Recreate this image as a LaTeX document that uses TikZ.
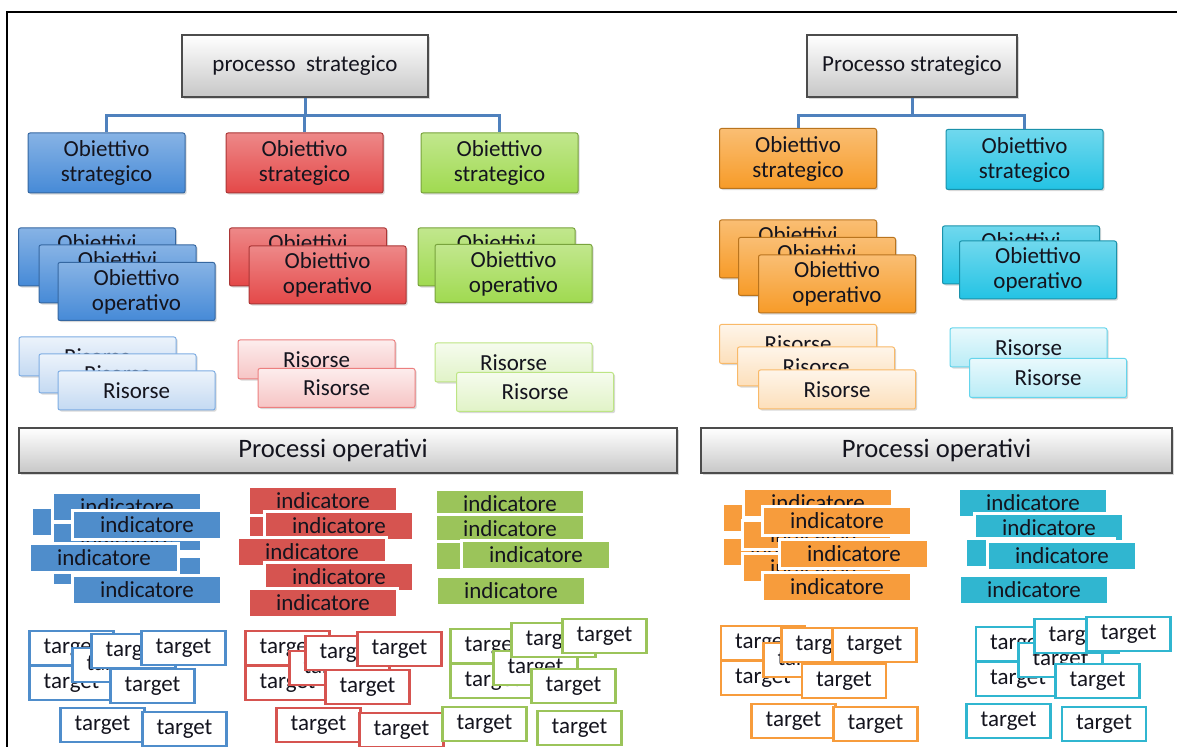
\documentclass[tikz,border=0pt]{standalone}
\usepackage{fontspec}
\setmainfont{Carlito}
\usetikzlibrary{shadows}
\definecolor{cblu}{RGB}{70,138,215}
\definecolor{crosso}{RGB}{228,72,72}
\definecolor{cverde}{RGB}{160,218,80}
\definecolor{carancio}{RGB}{247,155,40}
\definecolor{cciano}{RGB}{35,195,228}
\definecolor{iblu}{RGB}{79,141,203}
\definecolor{irosso}{RGB}{214,84,80}
\definecolor{iverde}{RGB}{155,196,90}
\definecolor{iarancio}{RGB}{247,156,60}
\definecolor{iciano}{RGB}{48,182,208}
\definecolor{linea}{RGB}{79,129,189}
\definecolor{testo}{RGB}{20,20,30}

\begin{document}
\begin{tikzpicture}[x=0.5pt, y=-0.5pt, line width=0.5pt, text=testo,
  font=\fontsize{11.5}{12.5}\selectfont]
\tikzstyle{every node} = [rectangle, inner sep=0pt, align=center]
\tikzstyle{ombra} = [drop shadow={shadow xshift=0.8pt, shadow yshift=-0.8pt, opacity=0.3}]
\tikzstyle{grigio} = [draw=black!70, line width=0.8pt, top color=white, bottom color=black!22, ombra]
\tikzset{
  strat/.style={draw=#1!75!black, top color=#1!65!white, bottom color=#1, rounded corners=1pt,
    minimum width=78.5pt, minimum height=30pt, ombra},
  oper/.style={draw=#1!75!black, top color=#1!65!white, bottom color=#1, rounded corners=1pt,
    minimum width=78.5pt, minimum height=29pt, ombra},
  riso/.style={draw=#1!70!white, top color=#1!10!white, bottom color=#1!32!white, rounded corners=1pt,
    minimum width=78.5pt, minimum height=19.5pt, ombra},
  indic/.style={fill=#1, draw=white, line width=1.5pt, minimum width=74.5pt, minimum height=14.5pt, ombra},
  targ/.style={fill=white, draw=#1, line width=1.4pt, minimum width=42pt, minimum height=17pt}
}
\useasboundingbox (0,0) rectangle (1177,747);
\fill[white] (0,0) rectangle (1177,747);
\draw[line width=1pt] (7,747) -- (7,12) -- (1177,12);

% processo strategico
\node (ps1) at (305,66) [grigio, minimum width=123pt, minimum height=31pt] {processo\ \ strategico};
\node (ps2) at (912,66) [grigio, minimum width=105pt, minimum height=31pt] {Processo strategico};

% obiettivi strategici
\node (osb) at (106.5,163) [strat=cblu] {Obiettivo\\strategico};
\node (osr) at (304.5,163) [strat=crosso] {Obiettivo\\strategico};
\node (osg) at (499.5,163) [strat=cverde] {Obiettivo\\strategico};
\node (oso) at (798,158.5) [strat=carancio] {Obiettivo\\strategico};
\node (osc) at (1024.5,159.5) [strat=cciano] {Obiettivo\\strategico};

\foreach \to in {osb, osr, osg}
  \draw [linea, line width=1.5pt] (ps1.south) -- ++(0,18) -| (\to.north);
\foreach \to in {oso, osc}
  \draw [linea, line width=1.5pt] (ps2.south) -- ++(0,18) -| (\to.north);

% obiettivi operativi
\node (opb1) at (97,257) [oper=cblu] {Obiettivi\\\phantom{operativo}};
\node (opb2) at (117.5,274) [oper=cblu] {Obiettivi\\\phantom{operativo}};
\node (opb3) at (136.5,291.5) [oper=cblu] {Obiettivo\\operativo};
\node (opr1) at (308,257) [oper=crosso] {Obiettivi\\\phantom{operativo}};
\node (opr2) at (327.5,275) [oper=crosso] {Obiettivo\\operativo};
\node (opg1) at (496.5,257) [oper=cverde] {Obiettivi\\\phantom{operativo}};
\node (opg2) at (513.5,273.5) [oper=cverde] {Obiettivo\\operativo};
\node (opo1) at (798,249) [oper=carancio] {Obiettivi\\\phantom{operativo}};
\node (opo2) at (817,266.5) [oper=carancio] {Obiettivi\\\phantom{operativo}};
\node (opo3) at (837,284) [oper=carancio] {Obiettivo\\operativo};
\node (opc1) at (1021,255) [oper=cciano] {Obiettivi\\\phantom{operativo}};
\node (opc2) at (1038,270) [oper=cciano] {Obiettivo\\operativo};

% risorse
\foreach \n/\x/\y in {1/97.5/356.5, 2/117.5/373.5, 3/136.5/390.5}
  \node (rb\n) at (\x,\y) [riso=cblu] {Risorse};
\foreach \n/\x/\y in {1/316.5/359.5, 2/336.5/388}
  \node (rr\n) at (\x,\y) [riso=crosso] {Risorse};
\foreach \n/\x/\y in {1/513.5/362.5, 2/535/392}
  \node (rg\n) at (\x,\y) [riso=cverde] {Risorse};
\foreach \n/\x/\y in {1/798/344, 2/816/366.5, 3/837/389.5}
  \node (ro\n) at (\x,\y) [riso=carancio] {Risorse};
\foreach \n/\x/\y in {1/1028.5/347.5, 2/1048/378}
  \node (rc\n) at (\x,\y) [riso=cciano] {Risorse};

% processi operativi
\node (po1) at (348,450.5) [grigio, minimum width=329pt, minimum height=22.5pt, font=\fontsize{13.3}{14}\selectfont] {Processi operativi\hspace*{15pt}};
\node (po2) at (936.5,450.5) [grigio, minimum width=235.5pt, minimum height=22.5pt, font=\fontsize{13.3}{14}\selectfont] {Processi operativi};

% indicatori
\foreach \n/\x/\y in {2/106/522, 1/127/507, 3/127/537, 5/127/571, 4/147/525, 6/104/558, 7/147/590}
  \node (ib\n) at (\x,\y) [indic=iblu] {indicatore};
\foreach \n/\x/\y in {2/323/527, 1/323/501, 3/339/526, 4/312/552, 5/339/577, 6/323/603}
  \node (ir\n) at (\x,\y) [indic=irosso] {indicatore};
\foreach \n/\x/\y in {1/510/504, 2/510/529, 3/510/556, 4/536/555, 5/511/591}
  \node (ig\n) at (\x,\y) [indic=iverde] {indicatore};
\foreach \n/\x/\y in {2/797/518, 3/797/552, 1/818/503, 4/817/535, 5/817/568, 6/837/521, 7/854/554, 8/837/587}
  \node (io\n) at (\x,\y) [indic=iarancio] {indicatore};
\foreach \n/\x/\y in {1/1033/503, 2/1049/528, 3/1040/553, 4/1062/556, 5/1034/590}
  \node (ic\n) at (\x,\y) [indic=iciano] {indicatore};

% target
\foreach \n/\x/\y in {1/71.5/648, 2/71.5/683, 4/114.5/665, 3/133.5/651, 5/183.5/648, 6/152.5/686, 7/102.5/725, 8/184.5/729}
  \node (tb\n) at (\x,\y) [targ=iblu] {target};
\foreach \n/\x/\y in {1/287.5/648, 2/287.5/683, 4/331.5/668, 3/347.5/653, 5/399.5/649, 6/367.5/687, 7/318.5/725, 8/401.5/730}
  \node (tr\n) at (\x,\y) [targ=irosso] {target};
\foreach \n/\x/\y in {1/492.5/646, 2/492.5/681, 4/535.5/668, 3/553.5/640, 5/604.5/636, 6/573.5/686, 7/484.5/724, 8/579.5/728}
  \node (tg\n) at (\x,\y) [targ=iverde] {target};
\foreach \n/\x/\y in {1/763/643, 2/763/678, 4/805.5/660, 3/823.5/645, 5/874.5/645, 6/844/681, 7/793.5/721, 8/875.5/724}
  \node (to\n) at (\x,\y) [targ=iarancio] {target};
\foreach \n/\x/\y in {1/1018/644, 2/1018/679, 4/1060.5/660, 3/1076.5/636, 5/1128.5/634, 6/1097.5/681, 7/1008.5/721, 8/1104/724}
  \node (tc\n) at (\x,\y) [targ=iciano] {target};
\end{tikzpicture}
\end{document}
